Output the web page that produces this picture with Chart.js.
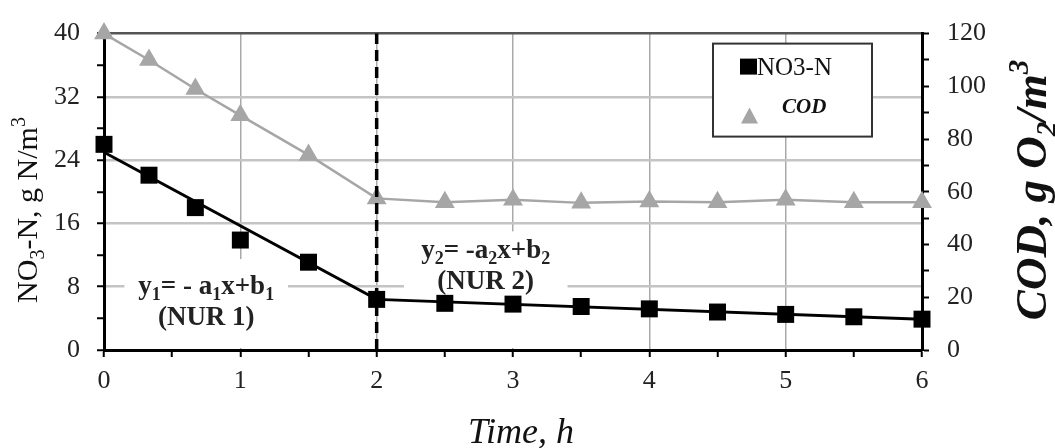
<!DOCTYPE html>
<html>
<head>
<meta charset="utf-8">
<script src="https://cdn.jsdelivr.net/npm/chart.js@4.4.0/dist/chart.umd.min.js"></script>
<style>
  html, body { margin: 0; padding: 0; background: #fff; }
  #wrap { width: 1055px; height: 448px; }
</style>
</head>
<body>
<div id="wrap"><canvas id="nurChart" width="1055" height="448"></canvas></div>
<script>
// sampling times, h
const timeH = [0, 0.33, 0.67, 1, 1.5, 2, 2.5, 3, 3.5, 4, 4.5, 5, 5.5, 6];
// NO3-N, g N/m3 (left axis)
const no3n = [26, 22.1, 18, 13.9, 11.1, 6.4, 5.9, 5.8, 5.5, 5.2, 4.8, 4.5, 4.2, 3.9];
// COD, g O2/m3 (right axis)
const cod = [120, 110, 99, 89, 74, 57.5, 56, 57, 55.8, 56.3, 56, 57, 56, 56];
// the two NUR phases as straight lines, break at 2 h
const fitX = [0, 2, 6];
const fitY = [25, 6.4, 3.9];
const breakX = 2;
// labelled ticks
const timeTicks = [0, 1, 2, 3, 4, 5, 6];
const leftTicks = [0, 8, 16, 24, 32, 40];
const rightTicks = [0, 20, 40, 60, 80, 100, 120];

const serif = "'Liberation Serif', 'Times New Roman', serif";
const tickFont = { family: serif, size: 26 };

// text with sub / superscripts, parts = [{t, s}]
function drawRich(ctx, parts, x, y, size, style, align) {
  const big = style + ' ' + size + 'px ' + serif;
  const small = style + ' ' + Math.round(size * 0.65) + 'px ' + serif;
  let w = 0;
  parts.forEach(p => { ctx.font = p.s ? small : big; w += ctx.measureText(p.t).width; });
  let cx = align === 'center' ? x - w / 2 : x;
  ctx.textAlign = 'left';
  ctx.textBaseline = 'alphabetic';
  parts.forEach(p => {
    ctx.font = p.s ? small : big;
    const dy = p.s === 'sub' ? size * 0.22 : (p.s === 'sup' ? -size * 0.4 : 0);
    ctx.fillText(p.t, cx, y + dy);
    cx += ctx.measureText(p.t).width;
  });
}

// equation labels, anchored in data units
const notes = [
  { box: [0.15, 1.35, 0, 11.5], x: 0.75, lines: [
      { y: 7.1, parts: [{t: 'y'}, {t: '1', s: 'sub'}, {t: '= - a'}, {t: '1', s: 'sub'}, {t: 'x+b'}, {t: '1', s: 'sub'}] },
      { y: 3.2, parts: [{t: '(NUR 1)'}] } ] },
  { box: [2.2, 3.4, 0, 15], x: 2.8, lines: [
      { y: 11.6, parts: [{t: 'y'}, {t: '2', s: 'sub'}, {t: '= -a'}, {t: '2', s: 'sub'}, {t: 'x+b'}, {t: '2', s: 'sub'}] },
      { y: 7.7, parts: [{t: '(NUR 2)'}] } ] }
];

const extras = {
  id: 'extras',
  beforeDatasetsDraw(chart) {
    const { ctx, scales: { x, y } } = chart;
    ctx.save();
    ctx.fillStyle = '#fff';
    notes.forEach(n => {
      const l = x.getPixelForValue(n.box[0]), r = x.getPixelForValue(n.box[1]);
      const b = y.getPixelForValue(n.box[2]) - 2, t = y.getPixelForValue(n.box[3]);
      ctx.fillRect(l, t, r - l, b - t);
    });
    ctx.restore();
  },
  afterDatasetsDraw(chart) {
    const { ctx, scales: { x, y } } = chart;
    ctx.save();
    ctx.fillStyle = '#222';
    notes.forEach(n => {
      n.lines.forEach(ln => {
        drawRich(ctx, ln.parts, x.getPixelForValue(n.x), y.getPixelForValue(ln.y), 27, 'bold', 'center');
      });
    });
    ctx.restore();
  },
  afterDraw(chart) {
    const { ctx, chartArea: ca } = chart;
    const ds = chart.data.datasets;
    ctx.save();
    // axis titles
    ctx.fillStyle = '#111';
    ctx.save();
    ctx.translate(37, 210);
    ctx.rotate(-Math.PI / 2);
    drawRich(ctx, [{t: 'NO'}, {t: '3', s: 'sub'}, {t: '-N, g N/m'}, {t: '3', s: 'sup'}], 0, 0, 30, 'normal', 'center');
    ctx.restore();
    ctx.save();
    ctx.translate(1046, 190);
    ctx.rotate(-Math.PI / 2);
    drawRich(ctx, [{t: 'COD, g O'}, {t: '2', s: 'sub'}, {t: '/m'}, {t: '3', s: 'sup'}], 0, 0, 45, 'italic bold', 'center');
    ctx.restore();
    drawRich(ctx, [{t: 'Time, h'}], 521, 443, 36, 'italic', 'center');

    // legend box
    const lx = ca.right - 209, ly = ca.top + 10;
    ctx.fillStyle = '#fff';
    ctx.fillRect(lx, ly, 159, 93);
    ctx.strokeStyle = '#333';
    ctx.lineWidth = 2;
    ctx.strokeRect(lx, ly, 159, 93);
    ctx.fillStyle = ds[0].pointBackgroundColor;
    ctx.fillRect(lx + 27, ly + 15, 17, 16);
    ctx.fillStyle = '#111';
    ctx.font = '25px ' + serif;
    ctx.textAlign = 'left';
    ctx.textBaseline = 'alphabetic';
    ctx.fillText(ds[0].label, lx + 44, ly + 31);
    ctx.fillStyle = ds[3].pointBackgroundColor;
    ctx.beginPath();
    ctx.moveTo(lx + 36.5, ly + 64);
    ctx.lineTo(lx + 45, ly + 80);
    ctx.lineTo(lx + 28, ly + 80);
    ctx.closePath();
    ctx.fill();
    ctx.fillStyle = '#111';
    ctx.font = 'italic bold 21px ' + serif;
    ctx.fillText(ds[3].label, lx + 69, ly + 69);
    ctx.restore();
  }
};

const gridX = c => {
  const v = c.tick ? c.tick.value : 0;
  return (Number.isInteger(v) && v > 0 && v < 6) ? '#a9a9a9' : 'rgba(0,0,0,0)';
};
const gridY = c => {
  const v = c.tick ? c.tick.value : 0;
  if (v === 40) return '#555';
  return (v % 8 === 0 && v > 0) ? '#c4c4c4' : 'rgba(0,0,0,0)';
};

new Chart(document.getElementById('nurChart'), {
  type: 'scatter',
  data: {
    datasets: [
      {
        label: 'NO3-N',
        data: timeH.map((t, i) => ({ x: t, y: no3n[i] })),
        yAxisID: 'y',
        showLine: false,
        pointStyle: 'rect',
        pointRadius: 12,
        pointHoverRadius: 12,
        pointBorderWidth: 0,
        pointBackgroundColor: '#000',
        clip: false
      },
      {
        label: 'NUR fit',
        data: fitX.map((t, i) => ({ x: t, y: fitY[i] })),
        yAxisID: 'y',
        showLine: true,
        borderColor: '#000',
        borderWidth: 3,
        pointRadius: 0,
        clip: false
      },
      {
        label: 'break',
        data: [{ x: breakX, y: 0 }, { x: breakX, y: 40 }],
        yAxisID: 'y',
        showLine: true,
        borderColor: '#000',
        borderWidth: 3.5,
        borderDash: [11, 6],
        pointRadius: 0,
        clip: false
      },
      {
        label: 'COD',
        data: timeH.map((t, i) => ({ x: t, y: cod[i] })),
        yAxisID: 'y1',
        showLine: true,
        borderColor: '#a6a6a6',
        borderWidth: 2.5,
        pointStyle: 'triangle',
        pointRadius: 11.5,
        pointHoverRadius: 11.5,
        pointBorderWidth: 0,
        pointBackgroundColor: '#a6a6a6',
        clip: false
      }
    ]
  },
  options: {
    responsive: false,
    animation: false,
    devicePixelRatio: 1,
    layout: { padding: { top: 24 } },
    plugins: { legend: { display: false }, tooltip: { enabled: false } },
    scales: {
      x: {
        type: 'linear', min: 0, max: 6,
        afterFit: s => { s.height = 98; },
        ticks: {
          stepSize: 0.5, maxTicksLimit: 20, autoSkip: false, maxRotation: 0,
          padding: 9, color: '#222', font: tickFont,
          callback: v => timeTicks.includes(v) ? v : ''
        },
        grid: { color: gridX, lineWidth: 1.5, tickColor: '#000', tickLength: 7, tickWidth: 2 },
        border: { color: '#000', width: 3 }
      },
      y: {
        position: 'left', min: 0, max: 40,
        afterFit: s => { s.width = 104; },
        ticks: {
          stepSize: 4, maxTicksLimit: 20, autoSkip: false,
          padding: 17, color: '#222', font: tickFont,
          callback: v => leftTicks.includes(v) ? v : ''
        },
        grid: { color: gridY, lineWidth: 2.5, tickColor: '#000', tickLength: 7, tickWidth: 2 },
        border: { color: '#000', width: 3 }
      },
      y1: {
        position: 'right', min: 0, max: 120,
        afterFit: s => { s.width = 133; },
        ticks: {
          stepSize: 10, maxTicksLimit: 20, autoSkip: false,
          padding: 18, color: '#222', font: tickFont,
          callback: v => rightTicks.includes(v) ? v : ''
        },
        grid: { drawOnChartArea: false, tickColor: '#000', tickLength: 7, tickWidth: 2 },
        border: { color: '#000', width: 3 }
      }
    }
  },
  plugins: [extras]
});
</script>
</body>
</html>
